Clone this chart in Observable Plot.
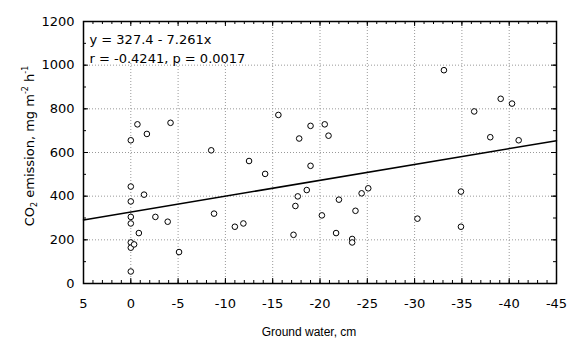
<!DOCTYPE html>
<html><head><meta charset="utf-8">
<script src="https://cdn.jsdelivr.net/npm/d3@7"></script>
<script src="https://cdn.jsdelivr.net/npm/@observablehq/plot@0.6"></script>
<style>
html,body{margin:0;padding:0;background:#fff;}
</style></head>
<body><div id="chart"></div>
<script>
// Ground water level (cm) and CO2 emission (mg m-2 h-1)
const groundWater = [0, -0.7, -1.7, -4.2, -8.5, -12.5, -15.6, -17.8, -19.0, -20.5,
  -20.9, -33.1, -36.3, -39.1, -40.3, -38.0, -41.0, -14.2, -19.0, 0,
  -1.4, 0, 0, 0, -2.6, -3.9, -0.85, 0, 0, -0.35,
  0, -5.1, -8.8, -11.0, -11.9, -17.2, -17.4, -17.65, -18.6, -22.0,
  -20.2, -21.7, -23.4, -23.4, -23.75, -24.4, -25.1, -30.3, -34.9, -34.9];
const co2Emission = [656, 729, 685, 736, 610, 561, 772, 664, 722, 729,
  677, 977, 788, 846, 824, 670, 656, 502, 539, 444,
  407, 376, 305, 275, 305, 283, 231, 188, 164, 179,
  55, 144, 320, 260, 275, 223, 355, 399, 428, 384,
  312, 231, 204, 188, 333, 413, 436, 297, 421, 260];
const xTicks = [5, 0, -5, -10, -15, -20, -25, -30, -35, -40, -45];
const yTicks = [0, 200, 400, 600, 800, 1000, 1200];
const xMinor = d3.range(5, -45.5, -1);
const yMinor = d3.range(0, 1201, 100);
const intercept = 327.4, slope = -7.261;
const annotation = ["y = 327.4 - 7.261x", "r = -0.4241, p = 0.0017"];

const pts = groundWater.map((x, i) => ({x, y: co2Emission[i]}));
const fit = [xTicks[0], xTicks[xTicks.length - 1]].map(x => ({x, y: intercept + slope * x}));

const W = 567, H = 341, mL = 83, mR = 11, mT = 21, mB = 58;
const pw = W - mL - mR, ph = H - mT - mB;
const F = "DejaVu Sans, Verdana, sans-serif";

const chart = Plot.plot({
  width: W, height: H,
  marginLeft: mL, marginRight: mR, marginTop: mT, marginBottom: mB,
  x: {domain: [5, -45], axis: null},
  y: {domain: [0, 1200], axis: null},
  style: {fontFamily: F, background: "#fff"},
  marks: [
    Plot.gridX(xTicks, {stroke: "#999", strokeOpacity: 1, strokeDasharray: "1,2"}),
    Plot.gridY(yTicks, {stroke: "#999", strokeOpacity: 1, strokeDasharray: "1,2"}),
    () => d3.create("svg:rect").attr("x", mL + 1).attr("y", mT + 1)
      .attr("width", 168).attr("height", 40).attr("fill", "#fff").node(),
    Plot.line(fit, {x: "x", y: "y", stroke: "#000", strokeWidth: 1.5}),
    Plot.dot(pts, {x: "x", y: "y", r: 2.8, stroke: "#000", strokeWidth: 1, fill: "#fff"}),
    Plot.text([annotation.join("\n")], {frameAnchor: "top-left", lineAnchor: "top", dx: 6, dy: 9, fontSize: 13, fontFamily: F, lineHeight: 1.46, textAnchor: "start", fill: "#000"}),
    Plot.tickX(xTicks, {x: d => d, insetTop: ph - 5, stroke: "#000"}),
    Plot.tickX(xTicks, {x: d => d, insetBottom: ph - 5, stroke: "#000"}),
    Plot.tickX(xMinor, {x: d => d, insetTop: ph - 3, stroke: "#000"}),
    Plot.tickX(xMinor, {x: d => d, insetBottom: ph - 3, stroke: "#000"}),
    Plot.tickY(yTicks, {y: d => d, insetRight: pw - 5, stroke: "#000"}),
    Plot.tickY(yTicks, {y: d => d, insetLeft: pw - 5, stroke: "#000"}),
    Plot.tickY(yMinor, {y: d => d, insetRight: pw - 3, stroke: "#000"}),
    Plot.tickY(yMinor, {y: d => d, insetLeft: pw - 3, stroke: "#000"}),
    Plot.frame({stroke: "#000", strokeWidth: 1.5}),
    Plot.axisX(xTicks, {anchor: "bottom", tickSize: 0, tickPadding: 15, fontSize: 13, fontFamily: F, label: null, fill: "#000", tickFormat: d => `${d}`}),
    Plot.axisY(yTicks, {anchor: "left", tickSize: 0, tickPadding: 9, fontSize: 13, fontFamily: F, label: null, fill: "#000", tickFormat: d => `${d}`})
  ]
});

const svg = d3.select(chart);
svg.append("text").attr("x", 309).attr("y", 336)
  .attr("text-anchor", "middle").attr("font-size", 12).attr("fill", "#000")
  .attr("font-family", "Liberation Sans, Arial, sans-serif")
  .text("Ground water, cm");
const yl = svg.append("text")
  .attr("transform", `translate(34,146) rotate(-90)`)
  .attr("text-anchor", "middle").attr("font-size", 13).attr("fill", "#000")
  .attr("font-family", F);
yl.append("tspan").text("CO");
yl.append("tspan").attr("font-size", 8).attr("dy", 3).text("2");
yl.append("tspan").attr("dy", -3).text(" emission, mg m");
yl.append("tspan").attr("font-size", 8).attr("dy", -6).text("-2");
yl.append("tspan").attr("dy", 6).text(" h");
yl.append("tspan").attr("font-size", 8).attr("dy", -6).text("-1");

document.getElementById("chart").appendChild(chart);
</script>
</body></html>
